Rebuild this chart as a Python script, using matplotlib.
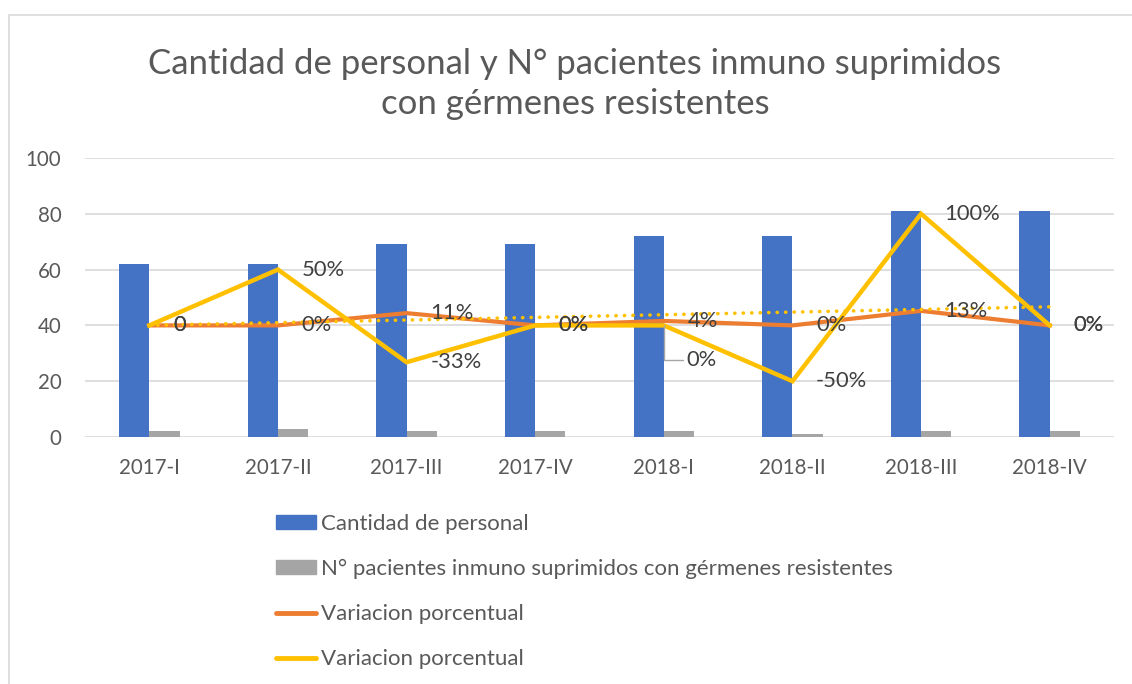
import numpy as np
import matplotlib
matplotlib.use("Agg")
import matplotlib.pyplot as plt
from matplotlib.patches import Rectangle
from matplotlib.lines import Line2D

plt.rcParams['font.family'] = ['Lato', 'DejaVu Sans']

periods = ["2017-I", "2017-II", "2017-III", "2017-IV",
           "2018-I", "2018-II", "2018-III", "2018-IV"]
personal = [62, 62, 69, 69, 72, 72, 81, 81]
pacientes = [2, 3, 2, 2, 2, 1, 2, 2]
var_personal = [0, 0, 0.11, 0, 0.04, 0, 0.13, 0]
var_pacientes = [0, 0.5, -0.33, 0, 0, -0.5, 1.0, 0]
lab_personal = ["0", "0%", "11%", "0%", "4%", "0%", "13%", "0%"]
lab_pacientes = ["0", "50%", "-33%", "0%", "0%", "-50%", "100%", "0%"]

BLUE = "#4472c4"
GRAY = "#a5a5a5"
ORANGE = "#ed7d31"
YELLOW = "#ffc000"
TXT = "#595959"
LAB = "#404040"


def main():
    fig = plt.figure(figsize=(11.32, 6.84), dpi=100)
    fig.patches.append(Rectangle((9 / 1132, -0.1), 1.2, (684 - 15) / 684 + 0.1,
                                 transform=fig.transFigure, fill=False,
                                 edgecolor="#d9d9d9", lw=1.2))

    ax = fig.add_axes([85 / 1132, 247 / 684, 1029 / 1132, 279 / 684])
    x = np.arange(len(periods))
    w = 0.235
    ax.bar(x - w / 2, personal, w, color=BLUE, zorder=2)
    ax.bar(x + w / 2, pacientes, w, color=GRAY, zorder=2)

    ax.set_xlim(-0.5, len(periods) - 0.5)
    ax.set_ylim(0, 100)
    ax.set_yticks(range(0, 101, 20))
    ax.set_xticks(x)
    ax.set_xticklabels(periods)
    ax.grid(axis="y", color="#d9d9d9", lw=1.2, zorder=0)
    ax.set_axisbelow(True)
    for s in ax.spines.values():
        s.set_visible(False)
    ax.tick_params(length=0, colors=TXT, labelsize=14.8)
    ax.tick_params(axis="y", pad=17)
    ax.tick_params(axis="x", pad=15)

    ax2 = ax.twinx()
    ax2.set_ylim(-1, 1.5)
    ax2.set_axis_off()
    ax2.plot(x, var_personal, color=ORANGE, lw=3, solid_joinstyle="miter", zorder=3)
    ax2.plot(x, var_pacientes, color=YELLOW, lw=3.2, solid_joinstyle="miter", zorder=4)

    # linear trendline of the second series
    k, c = np.polyfit(x, var_pacientes, 1)
    ax2.plot(x, k * x + c, color=YELLOW, lw=2.6, linestyle=(0, (0.05, 2.3)),
             dash_capstyle="round", zorder=5)

    for xi, v, t in zip(x, var_personal, lab_personal):
        ax2.annotate(t, (xi, v), xytext=(17, 0), textcoords="offset points",
                     ha="left", va="center", fontsize=15.8, color=LAB, zorder=6)
    for xi, v, t in zip(x, var_pacientes, lab_pacientes):
        if xi == 4:
            ax2.annotate(t, (xi, v), xytext=(16, -25), textcoords="offset points",
                         ha="left", va="center", fontsize=15.8, color=LAB, zorder=6,
                         arrowprops=dict(arrowstyle="-", color="#a6a6a6", lw=1,
                                         shrinkA=0, shrinkB=0,
                                         connectionstyle="angle,angleA=0,angleB=90,rad=0"))
        else:
            ax2.annotate(t, (xi, v), xytext=(17, 0), textcoords="offset points",
                         ha="left", va="center", fontsize=15.8, color=LAB, zorder=6)

    fig.text(0.508, 0.877, "Cantidad de personal y N° pacientes inmuno suprimidos\ncon gérmenes resistentes",
             ha="center", va="center", fontsize=25, color=TXT, linespacing=1.29)

    handles = [Rectangle((0, 0), 1, 1, color=BLUE),
               Rectangle((0, 0), 1, 1, color=GRAY),
               Line2D([], [], color=ORANGE, lw=3.5, solid_capstyle="round"),
               Line2D([], [], color=YELLOW, lw=3.5, solid_capstyle="round")]
    labels = ["Cantidad de personal",
              "N° pacientes inmuno suprimidos con gérmenes resistentes",
              "Variacion porcentual", "Variacion porcentual"]
    leg = fig.legend(handles, labels, loc="upper left",
                     bbox_to_anchor=(256 / 1132, 1 - 494 / 684),
                     frameon=False, fontsize=16, labelspacing=1.12,
                     handlelength=1.8, handleheight=0.55, handletextpad=0.22)
    for t in leg.get_texts():
        t.set_color(TXT)

    fig.savefig("out.png", dpi=100)


if __name__ == "__main__":
    main()
